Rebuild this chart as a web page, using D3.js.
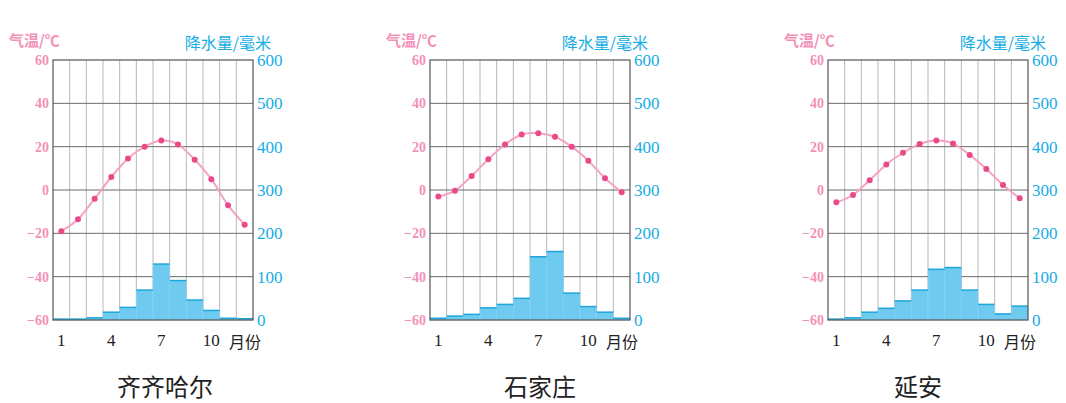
<!DOCTYPE html>
<html>
<head>
<meta charset="utf-8">
<script src="https://cdn.jsdelivr.net/npm/d3@7"></script>
<style>
  body { margin: 0; background: #fff; }
  svg { display: block; }
</style>
</head>
<body>
<svg id="chart" width="1066" height="403"></svg>
<script>
// month labels and station names
let months = [1, 2, 3, 4, 5, 6, 7, 8, 9, 10, 11, 12],
    monthTicks = [1, 4, 7, 10],
    cities = ["齐齐哈尔", "石家庄", "延安"];

// monthly mean temperature (°C)
let tempQiqihar = [-19, -13.5, -4, 6, 14.5, 20, 22.8, 21, 14, 5, -7, -16],
    tempShijiazhuang = [-3, -0.3, 6.5, 14.2, 21, 25.6, 26.2, 24.6, 20, 13.5, 5.4, -1],
    tempYanan = [-5.7, -2.3, 4.5, 11.8, 17.2, 21.2, 22.8, 21.5, 16.2, 9.7, 2.3, -3.8];

// monthly precipitation (mm)
let rainQiqihar = [2, 2, 5, 18, 29, 69, 129, 91, 46, 22, 4, 3],
    rainShijiazhuang = [4, 9, 13, 28, 36, 50, 146, 158, 62, 31, 18, 4],
    rainYanan = [2, 5, 18, 27, 44, 69, 117, 121, 69, 36, 14, 32];

let tempTicks = [-60, -40, -20, 0, 20, 40, 60],
    rainTicks = [0, 100, 200, 300, 400, 500, 600];

let panels = [
  {name: cities[0], temp: tempQiqihar, rain: rainQiqihar, left: 53, nameX: 165},
  {name: cities[1], temp: tempShijiazhuang, rain: rainShijiazhuang, left: 430, nameX: 540},
  {name: cities[2], temp: tempYanan, rain: rainYanan, left: 828, nameX: 918}
];

let plotTop = 60, plotBottom = 320, plotW = 200;

let pink = "#ea4a8a", pinkLight = "#f5a3c4", pinkText = "#f391b8", cyan = "#16ade6";

let svg = d3.select("#chart");

// scales shared by every panel (only x moves)
let yTemp = d3.scaleLinear().domain([-60, 60]).range([plotBottom, plotTop]);
let yRain = d3.scaleLinear().domain([0, 600]).range([plotBottom, plotTop]);

panels.forEach(function(p) {
  let x = d3.scaleBand().domain(months).range([p.left, p.left + plotW]).padding(0);
  let g = svg.append("g");

  // vertical grid (month boundaries)
  g.selectAll("line.vgrid")
    .data(months.slice(1))
    .enter().append("line")
      .attr("x1", d => x(d)).attr("x2", d => x(d))
      .attr("y1", plotTop).attr("y2", plotBottom)
      .attr("stroke", "#b8b8b8").attr("stroke-width", 1);

  // horizontal grid
  g.selectAll("line.hgrid")
    .data(tempTicks.slice(1, -1))
    .enter().append("line")
      .attr("x1", p.left).attr("x2", p.left + plotW)
      .attr("y1", d => yTemp(d)).attr("y2", d => yTemp(d))
      .attr("stroke", "#6a6a6a").attr("stroke-width", 1);

  // precipitation bars
  g.selectAll("rect.bar")
    .data(p.rain)
    .enter().append("rect")
      .attr("x", (d, i) => x(months[i]))
      .attr("width", x.bandwidth())
      .attr("y", d => yRain(d))
      .attr("height", d => plotBottom - yRain(d))
      .attr("fill", "#6fcaf0")
      .attr("stroke", "#8fd3f0").attr("stroke-width", 0.6);
  g.selectAll("line.bartop")
    .data(p.rain)
    .enter().append("line")
      .attr("x1", (d, i) => x(months[i])).attr("x2", (d, i) => x(months[i]) + x.bandwidth())
      .attr("y1", d => yRain(d)).attr("y2", d => yRain(d))
      .attr("stroke", "#1ea6dc").attr("stroke-width", 1.5);

  // frame
  g.append("rect")
    .attr("x", p.left).attr("y", plotTop)
    .attr("width", plotW).attr("height", plotBottom - plotTop)
    .attr("fill", "none").attr("stroke", "#555").attr("stroke-width", 1.2);

  // temperature line
  let line = d3.line()
    .x((d, i) => x(months[i]) + x.bandwidth() / 2)
    .y(d => yTemp(d))
    .curve(d3.curveCardinal);
  g.append("path")
    .datum(p.temp)
    .attr("d", line)
    .attr("fill", "none").attr("stroke", pinkLight).attr("stroke-width", 2);
  g.selectAll("circle.t")
    .data(p.temp)
    .enter().append("circle")
      .attr("cx", (d, i) => x(months[i]) + x.bandwidth() / 2)
      .attr("cy", d => yTemp(d))
      .attr("r", 3)
      .attr("fill", pink);

  // left axis (temperature)
  let yl = d3.axisLeft(yTemp).tickValues(tempTicks).tickSize(0).tickPadding(4)
    .tickFormat(d => d < 0 ? "−" + Math.abs(d) : d);
  let axl = g.append("g").attr("transform", "translate(" + p.left + ",0)").call(yl);
  axl.select(".domain").remove();
  axl.selectAll("text")
    .attr("fill", pinkText)
    .style("font-family", "Liberation Serif, serif")
    .style("font-weight", "bold")
    .style("font-size", "14px");

  // right axis (precipitation)
  let yr = d3.axisRight(yRain).tickValues(rainTicks).tickSize(0).tickPadding(4);
  let axr = g.append("g").attr("transform", "translate(" + (p.left + plotW) + ",0)").call(yr);
  axr.select(".domain").remove();
  axr.selectAll("text")
    .attr("fill", cyan)
    .style("font-family", "Liberation Serif, serif")
    .style("font-size", "17px");

  // month axis
  let xa = d3.axisBottom(x).tickValues(monthTicks).tickSize(0).tickPadding(14);
  let axb = g.append("g").attr("transform", "translate(0," + plotBottom + ")").call(xa);
  axb.select(".domain").remove();
  axb.selectAll("text")
    .attr("fill", "#222")
    .style("font-family", "Liberation Serif, serif")
    .style("font-size", "17px");

  g.append("text")
    .attr("x", p.left + 176).attr("y", plotBottom + 28)
    .attr("fill", "#222")
    .style("font-family", "Noto Sans CJK SC, sans-serif")
    .style("font-size", "16px")
    .text("月份");

  // axis titles
  g.append("text")
    .attr("x", p.left - 44).attr("y", 46)
    .attr("fill", pinkText)
    .style("font-family", "Noto Sans CJK SC, sans-serif")
    .style("font-weight", "bold")
    .style("font-size", "15px")
    .text("气温/℃");
  g.append("text")
    .attr("x", p.left + plotW + 18).attr("y", 49)
    .attr("text-anchor", "end")
    .attr("fill", cyan)
    .style("font-family", "Noto Sans CJK SC, sans-serif")
    .style("font-size", "16px")
    .text("降水量/毫米");

  // station name
  g.append("text")
    .attr("x", p.nameX).attr("y", 396)
    .attr("text-anchor", "middle")
    .attr("fill", "#222")
    .style("font-family", "Noto Sans CJK SC, sans-serif")
    .style("font-size", "24px")
    .text(p.name);
});
</script>
</body>
</html>
